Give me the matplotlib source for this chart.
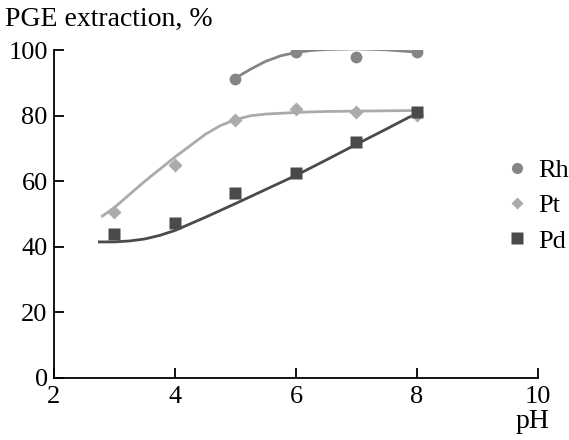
import matplotlib
matplotlib.use("Agg")
import matplotlib.pyplot as plt
from matplotlib.lines import Line2D

plt.rcParams['font.family'] = ['Liberation Serif', 'DejaVu Serif']

# measured points
ph = [3, 4, 5, 6, 7, 8]
rh_ph = [5, 6, 7, 8]
rh = [91.2, 99.4, 97.9, 99.4]
pt = [50.6, 65.0, 78.7, 82.0, 81.1, 80.2]
pd_ = [43.9, 47.3, 56.4, 62.5, 72.0, 81.0]

# fitted curves
rh_fit_x = [5.0, 5.25, 5.5, 5.75, 6.0, 6.25, 6.5, 7.0, 7.5, 8.0]
rh_fit_y = [91.5, 94.2, 96.6, 98.3, 99.3, 99.9, 100.2, 100.4, 100.1, 99.4]
pt_fit_x = [2.8, 3.0, 3.5, 4.0, 4.5, 4.75, 5.0, 5.25, 5.5, 6.0, 6.5, 7.0, 7.5, 8.0]
pt_fit_y = [49.4, 52.0, 60.0, 67.4, 74.3, 77.0, 78.8, 80.0, 80.5, 81.0, 81.3, 81.4, 81.5, 81.6]
pd_fit_x = [2.75, 3.0, 3.25, 3.5, 3.75, 4.0, 4.5, 5.0, 5.5, 6.0, 6.5, 7.0, 7.5, 8.0]
pd_fit_y = [41.5, 41.5, 41.8, 42.4, 43.5, 45.0, 49.0, 53.2, 57.5, 61.8, 66.5, 71.3, 76.0, 80.8]

C_RH = '#858585'
C_PT = '#ababab'
C_PD = '#4a4a4a'

fig = plt.figure(figsize=(5.69, 4.40), dpi=100)
ax = fig.add_axes([0.0949, 0.141, 0.8506, 0.745])

ax.plot(rh_fit_x, rh_fit_y, color=C_RH, lw=2.0, zorder=2)
ax.plot(pt_fit_x, pt_fit_y, color=C_PT, lw=2.0, zorder=2)
ax.plot(pd_fit_x, pd_fit_y, color=C_PD, lw=2.0, zorder=3)

ax.plot(rh_ph, rh, 'o', color=C_RH, ms=8.5, mec='none', zorder=4)
ax.plot(ph, pt, 'D', color=C_PT, ms=7.5, mec='none', zorder=4)
ax.plot(ph, pd_, 's', color=C_PD, ms=8.5, mec='none', zorder=5)

ax.set_xlim(2, 10)
ax.set_ylim(0, 100)
ax.set_xticks([2, 4, 6, 8, 10])
ax.set_yticks([0, 20, 40, 60, 80, 100])
ax.spines['top'].set_visible(False)
ax.spines['right'].set_visible(False)
for s in ('left', 'bottom'):
    ax.spines[s].set_linewidth(1.3)
ax.tick_params(direction='in', length=7, width=1.3, labelsize=19)
ax.tick_params(axis='x', pad=5.5)
ax.tick_params(axis='y', pad=4.5)

fig.text(0.008, 0.94, 'PGE extraction, %', fontsize=20, ha='left', va='baseline')
fig.text(0.965, 0.028, 'pH', fontsize=20, ha='right', va='baseline')

handles = [
    Line2D([], [], ls='none', marker='o', color=C_RH, mec='none', ms=8),
    Line2D([], [], ls='none', marker='D', color=C_PT, mec='none', ms=6.5),
    Line2D([], [], ls='none', marker='s', color=C_PD, mec='none', ms=8),
]
fig.legend(handles, ['Rh', 'Pt', 'Pd'], loc='upper left',
           bbox_to_anchor=(0.895, 0.64), frameon=False, fontsize=19,
           handlelength=0.6, handletextpad=0.5, labelspacing=0.45,
           borderaxespad=0, borderpad=0)

fig.savefig('out.png', dpi=100)
